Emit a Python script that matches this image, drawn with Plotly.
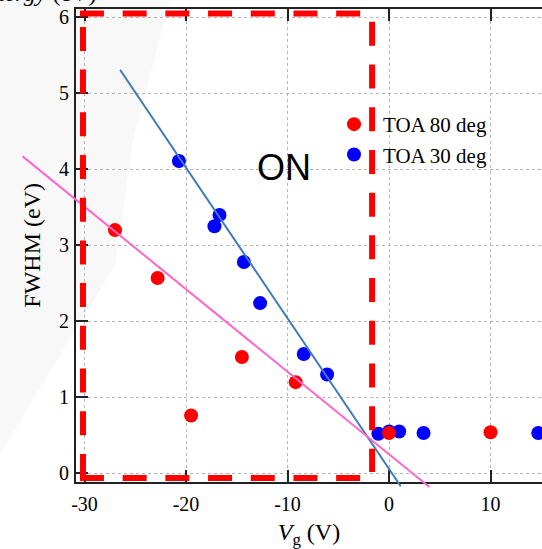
import plotly.graph_objects as go

# ---------------- data ----------------
v_80 = [-27.0, -22.8, -19.5, -14.5, -9.2, 0.0, 10.0]
fwhm_80 = [3.20, 2.57, 0.76, 1.53, 1.20, 0.53, 0.54]

v_30 = [-20.7, -16.7, -17.2, -14.3, -12.7, -8.4, -6.1, -1.05, 0.0, 1.0, 3.4, 14.7]
fwhm_30 = [4.11, 3.40, 3.25, 2.78, 2.24, 1.57, 1.30, 0.52, 0.55, 0.55, 0.53, 0.53]

fit30_v = [-26.5, 1.15]
fit30_e = [5.31, -0.17]
fit80_v = [-36.1, 3.97]
fit80_e = [4.17, -0.18]

x_ticks = [-30, -20, -10, 0, 10]
x_ticklabels = ["-30", "-20", "-10", "0", "10"]
y_ticks = [0, 1, 2, 3, 4, 5, 6]
y_ticklabels = ["0", "1", "2", "3", "4", "5", "6"]

# "ON" region (dashed red box) in data units
on_left, on_right = -30.15, -1.67
on_bottom, on_top = -0.06, 6.05

# ---------------- layout geometry ----------------
W, H = 542, 549
x_range = [-30.84, 15.07]
y_range = [-0.11, 6.109]
xdom = [76 / W, 1.0]
ydom = [1 - 481.7 / H, 1 - 9 / H]

# extended axes covering the whole canvas so fit lines can extend past the frame
ux = (x_range[1] - x_range[0]) / (xdom[1] - xdom[0])
uy = (y_range[1] - y_range[0]) / (ydom[1] - ydom[0])
x2_range = [x_range[0] - xdom[0] * ux, x_range[1] + (1 - xdom[1]) * ux]
y2_range = [y_range[0] - ydom[0] * uy, y_range[1] + (1 - ydom[1]) * uy]

SERIF = "Liberation Serif, Times New Roman, serif"
SANS = "Liberation Sans, Arial, sans-serif"

fig = go.Figure()

fig.add_trace(go.Scatter(
    x=v_30, y=fwhm_30, mode="markers", name="TOA 30 deg",
    marker=dict(color="#0000ff", size=14), legendrank=2,
    xaxis="x", yaxis="y"))
fig.add_trace(go.Scatter(
    x=v_80, y=fwhm_80, mode="markers", name="TOA 80 deg",
    marker=dict(color="#ff0000", size=14), legendrank=1,
    xaxis="x", yaxis="y"))

fig.add_trace(go.Scatter(
    x=fit30_v, y=fit30_e, mode="lines", showlegend=False,
    line=dict(color="#3d7ab8", width=2), xaxis="x2", yaxis="y2"))
fig.add_trace(go.Scatter(
    x=fit80_v, y=fit80_e, mode="lines", showlegend=False,
    line=dict(color="#ff66c8", width=2), xaxis="x2", yaxis="y2"))

dash = "24px,18.7px"
red_lines = [
    (on_left, on_bottom, on_left, on_top + 0.05),      # left, drawn upward from corner
    (on_left - 0.3, on_bottom, on_right + 0.3, on_bottom),  # bottom
    (on_left - 0.3, on_top, on_right + 0.3, on_top),   # top
    (on_right, 5.94, on_right, 0.017),                 # right, drawn downward
]
shapes = []
for x0, y0, x1, y1 in red_lines:
    shapes.append(dict(type="line", xref="x", yref="y", x0=x0, y0=y0, x1=x1, y1=y1,
                       line=dict(color="#ff0000", width=6, dash=dash), layer="above"))

# faint slide decoration in background
deco_px = [(0, 0), (170, 0), (133, 140), (115, 265), (45, 380), (0, 455)]
path = "M " + " L ".join(f"{x / W:.4f},{1 - y / H:.4f}" for x, y in deco_px) + " Z"
shapes.append(dict(type="path", xref="paper", yref="paper", path=path,
                   fillcolor="#f8f8f8", line=dict(width=0), layer="below"))

axis_common = dict(
    showline=True, linecolor="#222", linewidth=2,
    ticks="inside", ticklen=12, tickwidth=2, tickcolor="#222",
    showgrid=True, gridcolor="#b5b5b5", griddash="dot", gridwidth=1,
    zeroline=False, automargin=False,
)

fig.update_layout(
    width=W, height=H,
    margin=dict(l=0, r=0, t=0, b=0),
    paper_bgcolor="white", plot_bgcolor="rgba(0,0,0,0)",
    font=dict(family=SERIF, color="black"),
    shapes=shapes,
    xaxis=dict(
        domain=xdom, range=x_range, anchor="y", mirror="ticks",
        tickvals=x_ticks, ticktext=x_ticklabels,
        tickfont=dict(family=SERIF, size=20, color="black"),
        ticklabelstandoff=3,
        title=dict(text="<i>V</i><sub>g</sub> (V)", font=dict(family=SERIF, size=24),
                   standoff=10),
        **axis_common),
    yaxis=dict(
        domain=ydom, range=y_range, anchor="x",
        tickvals=y_ticks, ticktext=y_ticklabels,
        tickfont=dict(family=SERIF, size=20, color="black"),
        ticklabelstandoff=1,
        title=dict(text="FWHM (eV)", font=dict(family=SERIF, size=24), standoff=12),
        **axis_common),
    xaxis2=dict(domain=[0, 1], range=x2_range, anchor="y2", visible=False),
    yaxis2=dict(domain=[0, 1], range=y2_range, anchor="x2", visible=False),
    legend=dict(
        x=325 / W, y=1 - 104 / H, xanchor="left", yanchor="top",
        bgcolor="rgba(0,0,0,0)", font=dict(family=SERIF, size=21, color="black"),
        itemwidth=48, tracegroupgap=0),
    annotations=[
        dict(text="ON", x=-10.3, y=4.03, xref="x", yref="y", showarrow=False,
             font=dict(family=SANS, size=36, color="black")),
        dict(text="<i>Energy</i> (eV)", x=98 / W, y=1 + 7 / H, xref="paper", yref="paper",
             xanchor="right", yanchor="middle", showarrow=False,
             font=dict(family=SERIF, size=24, color="black")),
    ],
)

fig.write_html("out.html")
